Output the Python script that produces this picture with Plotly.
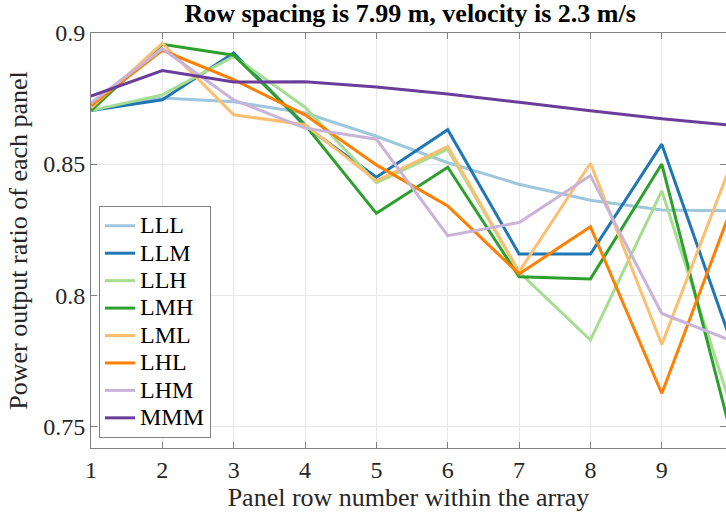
import plotly.graph_objects as go

rows = [1, 2, 3, 4, 5, 6, 7, 8, 9, 10]
names = ["LLL", "LLM", "LLH", "LMH", "LML", "LHL", "LHM", "MMM"]
LLL = [0.8704, 0.8752, 0.8738, 0.8695, 0.8606, 0.8505, 0.8423, 0.8362, 0.8325, 0.8322]
LLM = [0.8704, 0.8745, 0.8924, 0.8645, 0.8450, 0.8631, 0.8157, 0.8157, 0.8576, 0.7800]
LLH = [0.8704, 0.8764, 0.8911, 0.8717, 0.8429, 0.8557, 0.8088, 0.7829, 0.8398, 0.7550]
LMH = [0.8704, 0.8957, 0.8915, 0.8650, 0.8312, 0.8488, 0.8070, 0.8062, 0.8500, 0.7440]
LML = [0.8714, 0.8961, 0.8688, 0.8650, 0.8436, 0.8567, 0.8089, 0.8503, 0.7812, 0.8520]
LHL = [0.8723, 0.8934, 0.8822, 0.8688, 0.8497, 0.8340, 0.8081, 0.8261, 0.7625, 0.8348]
LHM = [0.8733, 0.8940, 0.8745, 0.8637, 0.8595, 0.8227, 0.8277, 0.8456, 0.7930, 0.7824]
MMM = [0.8759, 0.8857, 0.8813, 0.8814, 0.8794, 0.8767, 0.8736, 0.8703, 0.8673, 0.8647]
series = [LLL, LLM, LLH, LMH, LML, LHL, LHM, MMM]
colors = ["#9ec6dd", "#1f77b4", "#a6dd90", "#2ca02c", "#fdbf6f", "#ff7f00", "#c9b3d9", "#6a3d9a"]

x_ticks = [1, 2, 3, 4, 5, 6, 7, 8, 9]
y_ticks = [0.75, 0.8, 0.85, 0.9]
y_tick_text = ["0.75", "0.8", "0.85", "0.9"]

FONT = "Liberation Serif"
fig = go.Figure()
for n, s, c in zip(names, series, colors):
    fig.add_trace(go.Scatter(x=rows, y=s, name='<span style="font-size:24px">%s</span>' % n,
                             mode="lines", line=dict(color=c, width=3)))

fig.update_layout(
    font=dict(family=FONT, size=24, color="#262626"),
    width=726, height=519,
    margin=dict(l=91, r=0, t=33, b=71),
    paper_bgcolor="white", plot_bgcolor="white",
    title=dict(text="<b>Row spacing is 7.99 m, velocity is 2.3 m/s</b>",
               font=dict(family=FONT, size=26, color="black"),
               x=0.565, xanchor="center", y=0.975, yanchor="middle"),
    legend=dict(x=0.0126, y=0.024, xanchor="left", yanchor="bottom",
                bgcolor="white", bordercolor="#808080", borderwidth=1,
                font=dict(family=FONT, size=18.8, color="black"),
                tracegroupgap=0),
    showlegend=True,
)
fig.update_xaxes(
    range=[1, 9.9], tickvals=x_ticks,
    showline=True, linecolor="#808080", linewidth=1, mirror="ticks",
    ticks="inside", ticklen=6, tickcolor="#808080",
    showgrid=True, gridcolor="#e8e8e8", gridwidth=1, zeroline=False,
    tickfont=dict(family=FONT, size=24, color="#262626"),
    title=dict(text="Panel row number within the array",
               font=dict(family=FONT, size=26, color="#262626"), standoff=6),
)
fig.update_yaxes(
    range=[0.7417, 0.9], tickvals=y_ticks, ticktext=y_tick_text,
    showline=True, linecolor="#808080", linewidth=1, mirror="ticks",
    ticks="inside", ticklen=6, tickcolor="#808080",
    showgrid=True, gridcolor="#e8e8e8", gridwidth=1, zeroline=False,
    tickfont=dict(family=FONT, size=24, color="#262626"),
    title=dict(text="Power output ratio of each panel",
               font=dict(family=FONT, size=26, color="#262626"), standoff=8),
)
fig.write_html("out.html")
